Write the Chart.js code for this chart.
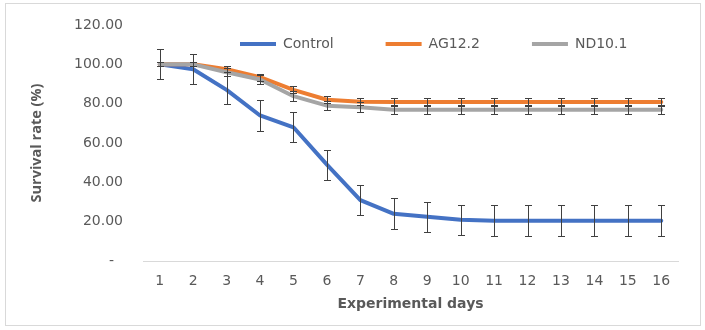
<!DOCTYPE html>
<html>
<head>
<meta charset="utf-8">
<script src="https://cdn.jsdelivr.net/npm/chart.js@4.4.1/dist/chart.umd.min.js"></script>
<style>
html, body { margin: 0; padding: 0; background: #fff; }
#box { position: absolute; left: 5px; top: 3px; width: 696px; height: 323px; border: 1px solid #d9d9d9; box-sizing: border-box; }
#box canvas { display: block; }
</style>
</head>
<body>
<div id="box"><canvas id="survival"></canvas></div>
<script>
var days = ['1', '2', '3', '4', '5', '6', '7', '8', '9', '10', '11', '12', '13', '14', '15', '16'];
var yTicks = [0, 20, 40, 60, 80, 100, 120];

// survival rate (%) per day, with error bar sizes
var control    = [100, 97.5, 87, 74, 68, 49, 31, 24, 22.5, 21, 20.5, 20.5, 20.5, 20.5, 20.5, 20.5];
var controlErr = [7.7, 7.6, 7.2, 8, 7.7, 7.6, 7.8, 7.8, 7.7, 7.6, 7.9, 7.9, 7.9, 7.9, 7.9, 7.9];
var ag122      = [100, 100, 97.5, 93.5, 87, 82, 81, 80.8, 80.8, 80.8, 80.8, 80.8, 80.8, 80.8, 80.8, 80.8];
var ag122Err   = [1, 1, 1.6, 1.8, 1.8, 1.8, 1.9, 1.9, 1.9, 1.9, 1.9, 1.9, 1.9, 1.9, 1.9, 1.9];
var nd101      = [100, 100, 96, 92.3, 83.8, 79, 78.2, 76.9, 76.9, 76.9, 76.9, 76.9, 76.9, 76.9, 76.9, 76.9];
var nd101Err   = [1, 1, 2, 2.2, 2.4, 2.4, 2.4, 2.4, 2.4, 2.4, 2.4, 2.4, 2.4, 2.4, 2.4, 2.4];

var seriesNames = ['Control', 'AG12.2', 'ND10.1'];
var seriesColors = ['#4472c4', '#ed7d31', '#a5a5a5'];

Chart.defaults.font.family = 'DejaVu Sans';
Chart.defaults.font.size = 14;
Chart.defaults.color = '#595959';

// vertical error bars with caps, drawn over the lines
var errorBars = {
	id: 'errorBars',
	afterDatasetsDraw: function(chart) {
		var ctx = chart.ctx;
		var yScale = chart.scales.y;
		ctx.save();
		ctx.strokeStyle = '#404040';
		ctx.lineWidth = 1;
		chart.data.datasets.forEach(function(ds, i) {
			var meta = chart.getDatasetMeta(i);
			ds.errors.forEach(function(err, j) {
				var px = Math.round(meta.data[j].x) + 0.5;
				var top = Math.round(yScale.getPixelForValue(ds.data[j] + err)) + 0.5;
				var bot = Math.round(yScale.getPixelForValue(ds.data[j] - err)) + 0.5;
				ctx.beginPath();
				ctx.moveTo(px, top);
				ctx.lineTo(px, bot);
				ctx.moveTo(px - 3.5, top);
				ctx.lineTo(px + 3.5, top);
				ctx.moveTo(px - 3.5, bot);
				ctx.lineTo(px + 3.5, bot);
				ctx.stroke();
			});
		});
		ctx.restore();
	}
};

// legend sits inside the plot area, above the lines
var legendInside = {
	id: 'legendInside',
	afterLayout: function(chart) {
		var lg = chart.legend;
		var pad = lg.options.labels.padding;
		lg.left = 234 - pad;
		lg.right = chart.width;
		lg.width = lg.right - lg.left;
		lg.top = 33 - pad;
		lg.bottom = lg.top + pad + 30;
		lg.height = lg.bottom - lg.top;
	}
};

function makeSet(idx, values, errs, order) {
	return {
		label: seriesNames[idx],
		data: values,
		errors: errs,
		borderColor: seriesColors[idx],
		backgroundColor: seriesColors[idx],
		borderWidth: 4,
		borderJoinStyle: 'round',
		borderCapStyle: 'round',
		tension: 0,
		pointRadius: 0,
		pointHoverRadius: 0,
		order: order
	};
}

var config = {
	type: 'line',
	data: {
		labels: days,
		datasets: [
			makeSet(0, control, controlErr, 3),
			makeSet(1, ag122, ag122Err, 2),
			makeSet(2, nd101, nd101Err, 1)
		]
	},
	options: {
		responsive: true,
		maintainAspectRatio: false,
		animation: false,
		events: [],
		layout: { padding: { left: 22, right: 22, top: 21, bottom: 12 } },
		plugins: {
			tooltip: { enabled: false },
			legend: {
				position: 'top',
				align: 'start',
				maxHeight: 0.001,
				labels: {
					boxWidth: 36,
					boxHeight: 4,
					padding: 52,
					color: '#595959',
					font: { family: 'DejaVu Sans', size: 14 },
					sort: function(a, b) { return a.datasetIndex - b.datasetIndex; },
					generateLabels: function(chart) {
						return Chart.defaults.plugins.legend.labels.generateLabels(chart).map(function(item) {
							item.lineWidth = 0;
							return item;
						});
					}
				}
			}
		},
		scales: {
			x: {
				offset: true,
				grid: { display: false, drawTicks: false },
				border: { display: true, color: '#d9d9d9', width: 1 },
				ticks: { padding: 12, color: '#595959', font: { family: 'DejaVu Sans', size: 14 } },
				title: {
					display: true,
					text: 'Experimental days',
					color: '#595959',
					font: { family: 'DejaVu Sans', size: 14, weight: 'bold' },
					padding: { top: 5, bottom: 0 }
				},
				afterFit: function(scale) { scale.height = 52; }
			},
			y: {
				min: yTicks[0],
				max: yTicks[yTicks.length - 1],
				afterBuildTicks: function(scale) {
					scale.ticks = yTicks.map(function(v) { return { value: v }; });
				},
				grid: { display: false, drawTicks: false },
				border: { display: false },
				ticks: {
					padding: 20,
					color: '#595959',
					font: { family: 'DejaVu Sans', size: 14 },
					callback: function(v) { return v === 0 ? '-  ' : v.toFixed(2); }
				},
				title: {
					display: true,
					text: 'Survival rate (%)',
					color: '#595959',
					font: { family: 'Open Sans', size: 14.5, weight: 'bold' },
					padding: { top: 0, bottom: 28 }
				},
				afterFit: function(scale) {
					scale.width = 115;
					scale.paddingTop = 8;
					scale.paddingBottom = 8;
				}
			}
		}
	},
	plugins: [errorBars, legendInside]
};

window.survivalChart = new Chart(document.getElementById('survival'), config);
</script>
</body>
</html>
